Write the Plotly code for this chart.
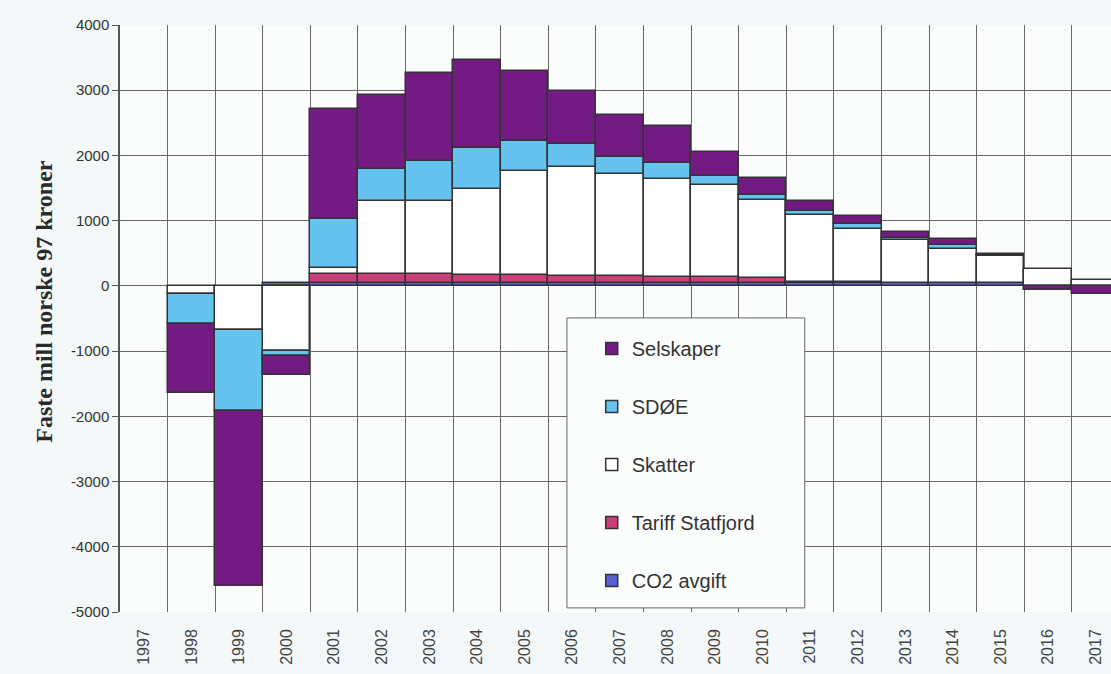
import plotly.graph_objects as go

# Categories (years) and stacked components, million NOK (1997 value)
years = [str(y) for y in range(1997, 2018)]

selskaper = [None, -1050, -2680, -290, 1687, 1135, 1356, 1349, 1069, 807,
             633, 556, 373, 265, 153, 123, 86, 92, 15, -70, -130]
sdoe = [None, -470, -1250, -80, 741, 502, 618, 629, 460, 359,
        272, 257, 138, 66, 62, 66, 41, 62, 11, None, None]
skatter = [None, -120, -670, -1000, 104, 1121, 1121, 1321, 1596, 1667,
           1565, 1493, 1411, 1207, 1021, 822, 648, 520, 412, 264, 84]
tariff = [None, None, None, None, 135, 135, 135, 130, 125, 115,
          105, 100, 90, 75, 20, 15, 10, 10, 5, None, None]
co2 = [None, None, None, 50, 40, 40, 40, 40, 40, 40,
       40, 40, 40, 40, 40, 40, 40, 40, 40, None, None]

y_ticks = [-5000, -4000, -3000, -2000, -1000, 0, 1000, 2000, 3000, 4000]
y_labels = [str(v) for v in y_ticks]

# Stack order from zero outward; rank sets the legend order (top first)
series = [
    ("CO2 avgift", co2, "#5b5fd0", 5),
    ("Tariff Statfjord", tariff, "#cc3f78", 4),
    ("Skatter", skatter, "#ffffff", 3),
    ("SDØE", sdoe, "#66c3ef", 2),
    ("Selskaper", selskaper, "#731a83", 1),
]

fig = go.Figure()
for name, vals, color, rank in series:
    fig.add_trace(go.Bar(
        x=years, y=vals, name=name, legendgroup=name, legendrank=rank,
        marker=dict(color=color, line=dict(color="#333333", width=1.5)),
    ))

grid = "#6a6a6a"
fig.update_layout(
    width=1111, height=674,
    barmode="relative", bargap=0,
    paper_bgcolor="#f4f8f8", plot_bgcolor="#fbfdfd",
    margin=dict(l=120, r=0, t=25, b=62),
    font=dict(family="Arial, Liberation Sans, sans-serif", color="#333333"),
    showlegend=True,
    legend=dict(
        x=0.476, y=0.482, xanchor="left", yanchor="top",
        traceorder="grouped", tracegroupgap=29,
        bgcolor="rgba(0,0,0,0)", borderwidth=0,
        font=dict(size=20, color="#333333"),
    ),
    xaxis=dict(
        type="category", range=[-0.5, 20.32],
        tickson="boundaries", ticks="", showgrid=True,
        gridcolor=grid, gridwidth=1,
        tickangle=-90, tickfont=dict(size=16, color="#444444"),
        ticklabelstandoff=13, showline=False,
    ),
    yaxis=dict(
        range=[-5000, 4000], tickvals=y_ticks, ticktext=y_labels,
        showgrid=True, gridcolor=grid, gridwidth=1,
        zeroline=True, zerolinecolor=grid, zerolinewidth=1,
        showline=True, linecolor="#555555", linewidth=1.5,
        ticks="outside", ticklen=6, tickcolor="#555555",
        tickfont=dict(size=15, color="#333333"),
    ),
    shapes=[dict(
        type="rect", xref="paper", yref="paper", layer="above",
        x0=0.451, x1=0.691, y0=0.007, y1=0.501,
        fillcolor="#fbfdfd", line=dict(color="#666666", width=1),
    )],
    annotations=[dict(
        text="<b>Faste mill norske 97 kroner</b>",
        xref="paper", yref="paper", x=-0.092, y=0.53,
        textangle=-90, showarrow=False,
        font=dict(family="Liberation Serif, Times New Roman, serif",
                  size=24, color="#2a2a2a"),
    )],
)

fig.write_html("out.html")
